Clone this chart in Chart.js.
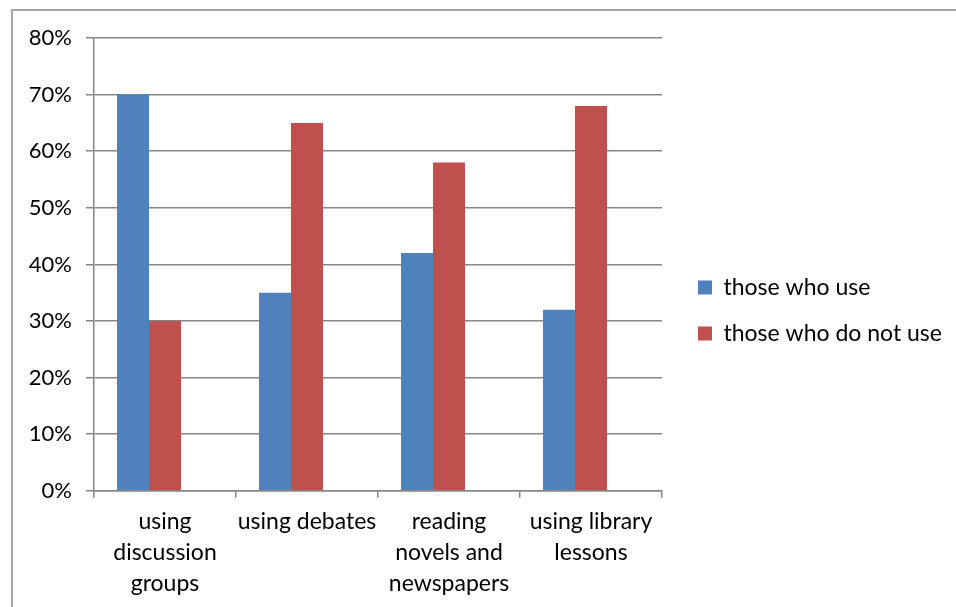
<!DOCTYPE html>
<html>
<head>
<meta charset="utf-8">
<script src="https://cdn.jsdelivr.net/npm/chart.js@4.4.0/dist/chart.umd.min.js"></script>
<style>
  html, body { margin: 0; padding: 0; background: #fff; overflow: hidden; }
  .frame { position: absolute; left: 11px; top: 9px; width: 950px; height: 620px; border: 2px solid #a6a6a6; box-sizing: border-box; }
  .wrap { position: absolute; left: 0; top: 0; width: 956px; height: 607px; }
</style>
</head>
<body>
<div class="frame"></div>
<div class="wrap"><canvas id="chart"></canvas></div>
<script>
const categories = [
  ['using', 'discussion', 'groups'],
  'using debates',
  ['reading', 'novels and', 'newspapers'],
  ['using library', 'lessons']
];
const useValues = [70, 35, 42, 32];
const notUseValues = [30, 65, 58, 68];
// the original sheet has a third, empty series that keeps a slot free
const emptySeries = [null, null, null, null];
const yTicks = [0, 10, 20, 30, 40, 50, 60, 70, 80];

const FONT = 'Lato, Open Sans, sans-serif';

// keep the plot area the same width as the original, and nudge the legend
const legendPlace = {
  id: 'legendPlace',
  afterInit(chart) {
    const lg = chart.legend;
    const fit = lg.fit;
    lg.fit = function () { fit.call(this); this.width = 294; };
  },
  afterLayout(chart) {
    const lg = chart.legend;
    lg.left += 13; lg.right += 13;
    lg.top -= 12; lg.bottom -= 12;
  }
};

new Chart(document.getElementById('chart'), {
  type: 'bar',
  data: {
    labels: categories,
    datasets: [
      { label: 'those who use', data: useValues, backgroundColor: '#4f81bd' },
      { label: 'those who do not use', data: notUseValues, backgroundColor: '#c0504d' },
      { label: '', data: emptySeries, backgroundColor: 'rgba(0,0,0,0)' }
    ]
  },
  options: {
    responsive: true,
    maintainAspectRatio: false,
    animation: false,
    devicePixelRatio: 1,
    datasets: { bar: { barPercentage: 1, categoryPercentage: 0.676 } },
    layout: { padding: { top: 38, bottom: 0, left: 0, right: 0 } },
    plugins: {
      legend: {
        position: 'right',
        labels: {
          boxWidth: 14, boxHeight: 14, padding: 23,
          color: '#000', font: { family: FONT, size: 23 },
          filter: (item) => item.text !== ''
        }
      },
      tooltip: { enabled: false }
    },
    scales: {
      x: {
        grid: { drawOnChartArea: false, drawTicks: true, tickLength: 7, color: '#868686', lineWidth: 1.5, offset: true },
        border: { color: '#868686', width: 1.5 },
        ticks: { color: '#000', font: { family: FONT, size: 23, lineHeight: 1.35 }, padding: 8, maxRotation: 0, autoSkip: false }
      },
      y: {
        min: 0, max: 80,
        afterBuildTicks: (scale) => { scale.ticks = yTicks.map(v => ({ value: v })); },
        afterFit: (scale) => { scale.width = 94; },
        grid: { color: '#868686', lineWidth: 1.5, tickLength: 8 },
        border: { color: '#868686', width: 1.5 },
        ticks: { color: '#000', font: { family: FONT, size: 22 }, padding: 14, callback: v => v + '%' }
      }
    }
  },
  plugins: [legendPlace]
});
</script>
</body>
</html>
